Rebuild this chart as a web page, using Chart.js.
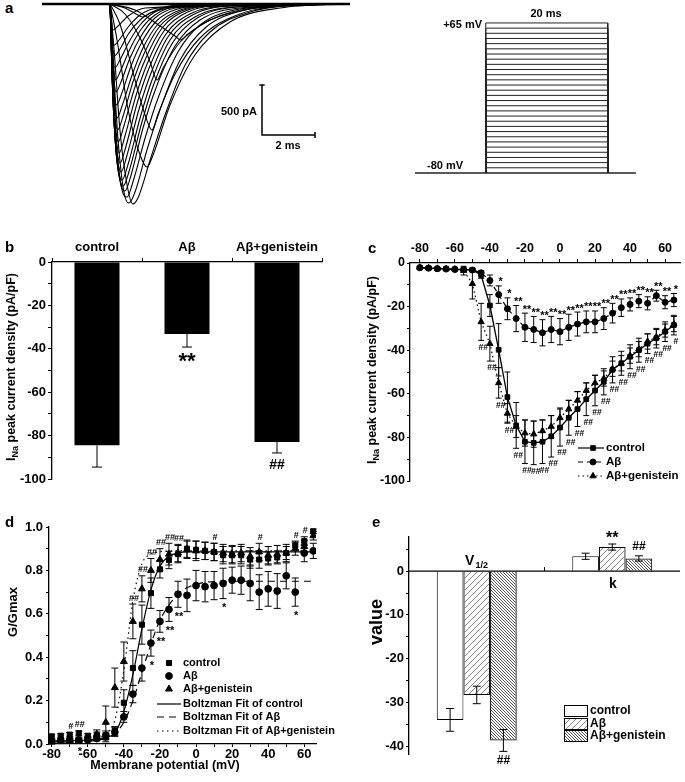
<!DOCTYPE html>
<html>
<head>
<meta charset="utf-8">
<title>INa figure</title>
<script src="https://cdn.jsdelivr.net/npm/chart.js@4.4.1/dist/chart.umd.min.js"></script>
<style>
  html, body { margin: 0; padding: 0; background: #fff; }
  body { position: relative; width: 685px; height: 782px; overflow: hidden; }
  canvas { position: absolute; }
  .tag { position: absolute; font: bold 15px "Liberation Sans", Arial, sans-serif; line-height: 16px; }
</style>
</head>
<body>
<canvas id="traces" width="308" height="210" style="left:42px;top:0px"></canvas>
<canvas id="protocol" width="221" height="180" style="left:415px;top:0px"></canvas>
<canvas id="panelB" width="340" height="270" style="left:0px;top:225px"></canvas>
<canvas id="panelC" width="345" height="270" style="left:340px;top:225px"></canvas>
<canvas id="panelD" width="340" height="277" style="left:0px;top:505px"></canvas>
<canvas id="panelE" width="345" height="277" style="left:340px;top:505px"></canvas>
<div class="tag" style="left:5px;top:0px">a</div>
<div class="tag" style="left:5px;top:239px">b</div>
<div class="tag" style="left:368px;top:240px">c</div>
<div class="tag" style="left:5px;top:514px">d</div>
<div class="tag" style="left:372px;top:514px">e</div>
<script>
// ---------- data ----------
const volts = [-80, -75, -70, -65, -60, -55, -50, -45, -40, -35, -30, -25, -20, -15, -10, -5, 0, 5, 10, 15, 20, 25, 30, 35, 40, 45, 50, 55, 60, 65];

// a: current sweeps, [time ms, current nA]
const sweeps = [
  [[2.57,0],[3.13,-0.04],[3.62,-0.11],[3.81,-0.13],[4.08,-0.09],[4.83,-0.04],[6.72,-0.01],[11.62,0]],
  [[2.57,0],[3.51,-0.06],[4.45,-0.22],[5.02,-0.32],[5.21,-0.36],[5.51,-0.30],[6.34,-0.16],[7.85,-0.05],[9.74,-0.01],[11.62,0]],
  [[2.57,0],[3.13,-0.10],[3.70,-0.34],[4.08,-0.58],[4.34,-0.76],[4.57,-0.64],[5.21,-0.38],[6.34,-0.16],[8.23,-0.03],[11.62,0]],
  [[2.57,0],[2.94,-0.20],[3.51,-0.76],[3.89,-1.11],[4.15,-1.26],[4.38,-1.10],[5.02,-0.70],[5.96,-0.34],[7.47,-0.10],[9.74,-0.01],[11.62,0]],
  [[2.57,0],[2.83,-0.36],[3.25,-1.06],[3.70,-1.51],[3.96,-1.63],[4.19,-1.51],[4.83,-1.01],[5.77,-0.51],[7.09,-0.18],[8.98,-0.04],[11.62,0]],
  [[2.57,0],[2.72,-0.46],[2.94,-1.26],[3.21,-1.81],[3.43,-2.00],[3.62,-1.94],[4.08,-1.56],[4.64,-1.11],[5.40,-0.61],[6.34,-0.28],[7.85,-0.08],[9.74,-0.01],[11.62,0]],
  [[2.57,0],[2.68,-0.56],[2.87,-1.36],[3.09,-1.88],[3.28,-1.99],[3.51,-1.88],[3.96,-1.46],[4.45,-1.06],[5.21,-0.56],[6.15,-0.24],[7.66,-0.06],[9.74,-0.01],[11.62,0]],
  [[2.57,0],[2.64,-0.56],[2.83,-1.46],[3.02,-1.86],[3.21,-1.93],[3.43,-1.78],[3.89,-1.34],[4.38,-0.94],[5.13,-0.48],[5.96,-0.21],[7.47,-0.05],[9.74,-0.01],[11.62,0]],
  [[2.57,0],[2.64,-0.66],[2.79,-1.46],[2.98,-1.81],[3.13,-1.87],[3.36,-1.71],[3.81,-1.24],[4.30,-0.84],[5.02,-0.42],[5.96,-0.16],[7.47,-0.04],[11.62,0]],
  [[2.57,0],[2.64,-0.69],[2.79,-1.46],[2.94,-1.76],[3.06,-1.82],[3.30,-1.66],[3.76,-1.19],[4.22,-0.80],[4.92,-0.39],[5.86,-0.14],[7.38,-0.03],[11.62,0]],
  [[2.57,0],[2.64,-0.71],[2.79,-1.46],[2.91,-1.70],[3.02,-1.76],[3.25,-1.60],[3.70,-1.14],[4.15,-0.76],[4.83,-0.36],[5.77,-0.13],[7.28,-0.03],[11.62,0]],
  [[2.57,0],[2.64,-0.69],[2.77,-1.40],[2.89,-1.62],[2.98,-1.68],[3.21,-1.51],[3.64,-1.07],[4.10,-0.70],[4.75,-0.33],[5.68,-0.11],[7.18,-0.02],[11.62,0]],
  [[2.57,0],[2.64,-0.66],[2.75,-1.31],[2.87,-1.54],[2.94,-1.59],[3.17,-1.42],[3.58,-1.00],[4.04,-0.64],[4.68,-0.30],[5.58,-0.10],[7.09,-0.02],[11.62,0]],
  [[2.57,0],[2.64,-0.63],[2.75,-1.25],[2.85,-1.44],[2.91,-1.49],[3.13,-1.32],[3.53,-0.93],[3.98,-0.59],[4.60,-0.27],[5.49,-0.08],[7.00,-0.015],[11.62,0]],
  [[2.57,0],[2.64,-0.61],[2.75,-1.18],[2.83,-1.34],[2.87,-1.38],[3.09,-1.22],[3.47,-0.86],[3.92,-0.54],[4.53,-0.24],[5.40,-0.07],[6.91,-0.01],[11.62,0]],
  [[2.57,0],[2.64,-0.56],[2.75,-1.10],[2.85,-1.26],[3.06,-1.12],[3.43,-0.78],[3.86,-0.49],[4.45,-0.22],[5.30,-0.065],[6.80,-0.01],[11.62,0]],
  [[2.57,0],[2.64,-0.51],[2.75,-1.01],[2.83,-1.14],[3.02,-1.02],[3.40,-0.71],[3.81,-0.44],[4.38,-0.20],[5.21,-0.06],[6.72,-0.01],[11.62,0]],
  [[2.57,0],[2.64,-0.48],[2.73,-0.90],[2.81,-1.01],[3.00,-0.90],[3.36,-0.62],[3.77,-0.38],[4.32,-0.17],[5.11,-0.05],[6.60,-0.01],[11.62,0]],
  [[2.57,0],[2.64,-0.46],[2.72,-0.78],[2.79,-0.88],[2.98,-0.78],[3.32,-0.54],[3.74,-0.32],[4.26,-0.14],[5.02,-0.04],[6.53,-0.01],[11.62,0]],
  [[2.57,0],[2.64,-0.42],[2.73,-0.70],[2.77,-0.76],[2.96,-0.67],[3.30,-0.46],[3.72,-0.26],[4.26,-0.11],[5.02,-0.03],[11.62,0]],
  [[2.57,0],[2.64,-0.38],[2.75,-0.64],[2.94,-0.56],[3.28,-0.38],[3.70,-0.21],[4.26,-0.08],[5.02,-0.02],[11.62,0]],
  [[2.57,0],[2.64,-0.33],[2.73,-0.52],[2.92,-0.46],[3.26,-0.30],[3.70,-0.16],[4.32,-0.06],[5.00,-0.015],[11.62,0]],
  [[2.57,0],[2.64,-0.28],[2.72,-0.41],[2.91,-0.36],[3.25,-0.23],[3.70,-0.11],[4.38,-0.04],[11.62,0]],
  [[2.57,0],[2.68,-0.26],[2.87,-0.22],[3.25,-0.12],[3.89,-0.04],[11.62,0]]
];
const sweepSpan = [0, 11.62];
const scaleBarT = [8.3, 10.3];     // 2 ms
const scaleBarI = [-0.81, -1.31];  // 500 pA

// a: voltage protocol
const holdLevel = -80;
const stepLevels = [-75, -70, -65, -60, -55, -50, -45, -40, -35, -30, -25, -20, -15, -10, -5, 0, 5, 10, 15, 20, 25, 30, 35, 40, 45, 50, 55, 60, 65];
const protocolT = [0, 11.6, 31.6, 36.2];

// b
const groups = ['control', 'Aβ', 'Aβ+genistein'];
const peakMean = [-84.5, -33.2, -83.0];
const peakSem = [10.0, 6.0, 5.0];
const peakSig = ['', '**', '##'];

// c: I-V
const ivControl = [-2.1, -2.3, -2.6, -2.6, -2.8, -3.0, -3.2, -5.5, -19.5, -39.8, -61.5, -74.5, -82.0, -82.5, -82.0, -79.5, -75.5, -71.0, -67.0, -62.5, -58.5, -54.5, -49.0, -46.0, -43.0, -40.0, -37.0, -34.5, -31.5, -28.5];
const ivControlErr = [0.5, 0.5, 0.5, 0.5, 0.5, 0.6, 0.8, 1.5, 5, 12, 11.5, 10.5, 10, 10, 10, 9.5, 8.5, 8, 8, 7.5, 7, 6, 6, 5.5, 5.5, 5.5, 4.5, 4.5, 4.5, 4.5];
const ivAb = [-2.2, -2.4, -2.6, -2.8, -3.0, -3.0, -3.2, -4.5, -8.0, -14.5, -21.0, -25.5, -29.5, -30.5, -32.0, -30.5, -31.5, -29.5, -28.0, -27.0, -27.0, -25.5, -23.0, -20.5, -19.0, -17.5, -18.5, -15.0, -18.0, -17.0];
const ivAbErr = [0.5, 0.5, 0.5, 0.5, 0.5, 0.5, 0.6, 1, 2.5, 4, 5, 6, 6.5, 6, 6, 6, 6, 6, 5.5, 5, 5, 5, 4.5, 4, 3, 3, 3, 2.5, 3, 3];
const ivGen = [-2.0, -2.2, -2.5, -2.6, -2.8, -3.5, -9.5, -27.0, -37.0, -55.0, -69.0, -75.0, -78.0, -78.5, -77.0, -75.0, -71.0, -67.0, -63.0, -58.5, -55.0, -53.0, -48.5, -46.0, -42.5, -39.5, -36.0, -34.0, -31.0, -28.0];
const ivGenErr = [0.5, 0.5, 0.5, 0.5, 0.5, 2, 7, 8.5, 8, 7, 4.5, 5, 6, 6, 5, 5, 4.5, 4, 4, 3.5, 3.5, 3.5, 3.5, 3.5, 3.5, 3.5, 3.5, 3.5, 3, 3.5];
const ivAbSig = ['', '', '', '', '', '', '', '', '', '*', '*', '**', '**', '**', '**', '**', '**', '**', '**', '**', '**', '**', '**', '**', '**', '**', '**', '**', '**', '*'];
const ivGenSig = ['', '', '', '', '', '', '', '##', '##', '##', '##', '##', '##', '##', '##', '##', '##', '##', '##', '##', '##', '##', '##', '##', '##', '##', '##', '##', '##', '#'];

// d: activation
const gControl = [0.035, 0.038, 0.043, 0.049, 0.038, 0.04, 0.03, 0.06, 0.19, 0.35, 0.55, 0.695, 0.805, 0.848, 0.875, 0.9, 0.895, 0.89, 0.885, 0.87, 0.87, 0.87, 0.85, 0.85, 0.855, 0.86, 0.88, 0.915, 0.935, 0.98];
const gControlErr = [0.01, 0.01, 0.01, 0.012, 0.01, 0.015, 0.02, 0.02, 0.06, 0.08, 0.09, 0.07, 0.04, 0.04, 0.04, 0.04, 0.04, 0.04, 0.04, 0.04, 0.04, 0.04, 0.04, 0.04, 0.03, 0.03, 0.03, 0.02, 0.02, 0.01];
const gAb = [0.011, 0.015, 0.017, 0.018, 0.02, 0.025, 0.04, 0.055, 0.125, 0.23, 0.35, 0.465, 0.565, 0.62, 0.69, 0.685, 0.73, 0.725, 0.73, 0.74, 0.755, 0.755, 0.74, 0.7, 0.715, 0.705, 0.775, 0.7, 0.88, 0.89];
const gAbErr = [0.01, 0.01, 0.01, 0.01, 0.01, 0.01, 0.02, 0.02, 0.025, 0.04, 0.06, 0.06, 0.05, 0.055, 0.06, 0.075, 0.07, 0.07, 0.065, 0.07, 0.06, 0.065, 0.08, 0.08, 0.08, 0.08, 0.06, 0.065, 0.04, 0.035];
const gGen = [0.01, 0.012, 0.015, 0.016, 0.025, 0.045, 0.1, 0.26, 0.38, 0.565, 0.715, 0.8, 0.85, 0.875, 0.88, 0.895, 0.89, 0.89, 0.885, 0.88, 0.875, 0.88, 0.865, 0.885, 0.87, 0.875, 0.88, 0.9, 0.91, 0.96];
const gGenErr = [0.01, 0.01, 0.01, 0.01, 0.01, 0.02, 0.075, 0.09, 0.09, 0.08, 0.06, 0.055, 0.05, 0.05, 0.04, 0.04, 0.045, 0.04, 0.04, 0.04, 0.04, 0.04, 0.04, 0.04, 0.04, 0.04, 0.04, 0.03, 0.03, 0.02];
const fitControl = [0.015, 0.015, 0.015, 0.016, 0.018, 0.02, 0.03, 0.05, 0.15, 0.32, 0.53, 0.71, 0.82, 0.865, 0.88, 0.885, 0.885, 0.885, 0.885, 0.885, 0.885, 0.885, 0.885, 0.885, 0.885, 0.885, 0.885, 0.885, 0.885, 0.885];
const fitAb = [0.01, 0.01, 0.01, 0.011, 0.013, 0.017, 0.027, 0.05, 0.1, 0.2, 0.33, 0.46, 0.57, 0.64, 0.69, 0.72, 0.735, 0.745, 0.748, 0.75, 0.75, 0.75, 0.75, 0.75, 0.75, 0.75, 0.75, 0.75, 0.75, 0.75];
const fitGen = [0.012, 0.012, 0.013, 0.014, 0.017, 0.025, 0.045, 0.11, 0.34, 0.66, 0.83, 0.875, 0.886, 0.889, 0.89, 0.89, 0.89, 0.89, 0.89, 0.89, 0.89, 0.89, 0.89, 0.89, 0.89, 0.89, 0.89, 0.89, 0.89, 0.89];
const gAbSig = ['', '', '', '*', '', '', '', '', '', '', '', '*', '**', '**', '**', '', '', '', '', '*', '', '', '', '', '', '', '', '*', '', ''];
const gGenSig = ['', '', '#', '##', '', '', '', '', '', '##', '##', '##', '##', '##', '##', '', '', '', '#', '', '', '', '', '#', '', '', '', '#', '#', ''];

// e: Boltzmann parameters
const params = ['V1/2', 'k'];
const parControl = [-34.0, 3.4];
const parControlErr = [2.6, 0.7];
const parAb = [-28.3, 5.5];
const parAbErr = [2.0, 0.7];
const parGen = [-38.7, 2.9];
const parGenErr = [2.5, 0.6];
const parAbSig = ['', '**'];
const parGenSig = ['##', '##'];

// ---------- helpers ----------
const FONT = '"Liberation Sans", Arial, sans-serif';
Chart.defaults.font.family = FONT;
Chart.defaults.font.weight = 'bold';
Chart.defaults.font.size = 13;
Chart.defaults.color = '#000';
Chart.defaults.animation = false;
Chart.defaults.responsive = false;
Chart.defaults.plugins.legend.display = false;
Chart.defaults.plugins.tooltip.enabled = false;

const bold = size => 'bold ' + size + 'px ' + FONT;
const pts = arr => volts.map((v, i) => ({ x: v, y: arr[i] }));

// text at page coordinates
function txt(chart, s, px, py, size, align) {
  const c = chart.ctx, cv = chart.canvas;
  c.save();
  c.font = bold(size);
  c.fillStyle = '#000';
  c.textAlign = align || 'center';
  c.textBaseline = 'middle';
  const dy = s.indexOf('*') >= 0 ? size * 0.22 : 0;
  c.fillText(s, px - cv.offsetLeft, py - cv.offsetTop + dy);
  c.restore();
}

// rotated title built from pieces [text, size, shift]
function rotTitle(chart, parts, px, py) {
  const c = chart.ctx, cv = chart.canvas;
  c.save();
  c.translate(px - cv.offsetLeft, py - cv.offsetTop);
  c.rotate(-Math.PI / 2);
  c.fillStyle = '#000';
  c.textBaseline = 'middle';
  c.textAlign = 'left';
  let w = 0;
  parts.forEach(p => { c.font = bold(p[1]); w += c.measureText(p[0]).width; });
  let x = -w / 2;
  parts.forEach(p => { c.font = bold(p[1]); c.fillText(p[0], x, p[2] || 0); x += c.measureText(p[0]).width; });
  c.restore();
}

function seg(chart, x1, y1, x2, y2, dash, lw) {
  const c = chart.ctx, cv = chart.canvas;
  c.save();
  c.strokeStyle = '#000';
  c.lineWidth = lw || 1.2;
  c.setLineDash(dash || []);
  c.beginPath();
  c.moveTo(x1 - cv.offsetLeft, y1 - cv.offsetTop);
  c.lineTo(x2 - cv.offsetLeft, y2 - cv.offsetTop);
  c.stroke();
  c.restore();
}

function marker(chart, style, px, py, r) {
  const c = chart.ctx, cv = chart.canvas;
  c.save();
  c.fillStyle = '#000';
  c.strokeStyle = '#000';
  Chart.helpers.drawPoint(c, { pointStyle: style, radius: r, rotation: 0, borderWidth: 1 }, px - cv.offsetLeft, py - cv.offsetTop);
  c.restore();
}

function errorBars(chart, dsi, errs, cap, away) {
  const meta = chart.getDatasetMeta(dsi), ys = chart.scales.y, c = chart.ctx;
  const ds = chart.data.datasets[dsi];
  c.save();
  c.strokeStyle = '#000';
  c.lineWidth = 1;
  meta.data.forEach((el, i) => {
    const e = errs[i];
    if (!e) return;
    const raw = ds.data[i];
    const v = typeof raw === 'number' ? raw : raw.y;
    const a = away ? v : v - e;
    const b = away ? v + Math.sign(v) * e : v + e;
    const ya = ys.getPixelForValue(a), yb = ys.getPixelForValue(b);
    c.beginPath();
    c.moveTo(el.x, ya); c.lineTo(el.x, yb);
    c.moveTo(el.x - cap, yb); c.lineTo(el.x + cap, yb);
    if (!away) { c.moveTo(el.x - cap, ya); c.lineTo(el.x + cap, ya); }
    c.stroke();
  });
  c.restore();
}

function axisStyle(extra) {
  return Object.assign({
    grid: { drawOnChartArea: false, color: '#000', tickLength: 4, lineWidth: 1 },
    border: { color: '#000', width: 1.3 }
  }, extra);
}

const everyN = n => v => (Math.abs(v / n - Math.round(v / n)) < 1e-6 ? v : '');

function hatch(size, dir, color, lw) {
  const cv = document.createElement('canvas');
  cv.width = cv.height = size;
  const g = cv.getContext('2d');
  g.strokeStyle = color;
  g.lineWidth = lw;
  g.beginPath();
  if (dir > 0) {
    g.moveTo(0, size); g.lineTo(size, 0);
    g.moveTo(-1, 1); g.lineTo(1, -1);
    g.moveTo(size - 1, size + 1); g.lineTo(size + 1, size - 1);
  } else {
    g.moveTo(0, 0); g.lineTo(size, size);
    g.moveTo(size - 1, -1); g.lineTo(size + 1, 1);
    g.moveTo(-1, size - 1); g.lineTo(1, size + 1);
  }
  g.stroke();
  return g.createPattern(cv, 'repeat');
}

// ---------- a: sweeps ----------
const sweepSets = sweeps.map(s => ({
  data: s.map(p => ({ x: p[0], y: p[1] })),
  borderColor: '#000', borderWidth: 1.1, pointRadius: 0, cubicInterpolationMode: 'monotone'
}));
sweepSets.push({ data: sweepSpan.map(t => ({ x: t, y: 0 })), borderColor: '#000', borderWidth: 2.6, pointRadius: 0 });
sweepSets.push({
  data: [{ x: scaleBarT[0], y: scaleBarI[0] }, { x: scaleBarT[0], y: scaleBarI[1] }, { x: scaleBarT[1], y: scaleBarI[1] }],
  borderColor: '#000', borderWidth: 1.5, pointRadius: 0
});
sweepSets.push({
  data: [{ x: scaleBarT[0] - 0.1, y: scaleBarI[0] }, { x: scaleBarT[0] + 0.1, y: scaleBarI[0] }],
  borderColor: '#000', borderWidth: 1.5, pointRadius: 0
});
sweepSets.push({
  data: [{ x: scaleBarT[1], y: scaleBarI[1] - 0.03 }, { x: scaleBarT[1], y: scaleBarI[1] + 0.03 }],
  borderColor: '#000', borderWidth: 1.5, pointRadius: 0
});

new Chart(document.getElementById('traces'), {
  type: 'line',
  data: { datasets: sweepSets },
  options: {
    layout: { padding: 0 },
    scales: {
      x: { type: 'linear', display: false, min: 0, max: 11.62 },
      y: { display: false, min: -2.06, max: 0.04 }
    }
  },
  plugins: [{
    id: 'aText',
    afterDraw(chart) {
      txt(chart, '500 pA', 257, 112, 11, 'right');
      txt(chart, '2 ms', 288, 146, 11);
    }
  }]
});

// ---------- a: protocol ----------
const protoSets = stepLevels.map(v => ({
  data: [
    { x: protocolT[1], y: holdLevel }, { x: protocolT[1], y: v },
    { x: protocolT[2], y: v }, { x: protocolT[2], y: holdLevel }
  ],
  borderColor: '#222', borderWidth: 1, pointRadius: 0
}));
protoSets.push({
  data: [{ x: protocolT[0], y: holdLevel }, { x: protocolT[3], y: holdLevel }],
  borderColor: '#222', borderWidth: 1.4, pointRadius: 0
});

new Chart(document.getElementById('protocol'), {
  type: 'line',
  data: { datasets: protoSets },
  options: {
    layout: { padding: 0 },
    scales: {
      x: { type: 'linear', display: false, min: 0, max: 36.23 },
      y: { display: false, min: -86.8, max: 87.2 }
    }
  },
  plugins: [{
    id: 'protoText',
    afterDraw(chart) {
      txt(chart, '+65 mV', 482, 25, 11, 'right');
      txt(chart, '-80 mV', 427, 166, 11, 'left');
      txt(chart, '20 ms', 546, 14, 11);
    }
  }]
});

// ---------- b ----------
new Chart(document.getElementById('panelB'), {
  type: 'bar',
  data: {
    labels: groups,
    datasets: [{ data: peakMean, backgroundColor: '#000', barPercentage: 0.5, categoryPercentage: 1 }]
  },
  options: {
    layout: { padding: { left: 0, top: 0, right: 18, bottom: 16 } },
    scales: {
      x: axisStyle({
        position: 'top',
        grid: { drawOnChartArea: false, color: '#000', tickLength: 4, offset: true },
        ticks: { padding: 3, font: { size: 13 }, maxRotation: 0 },
        afterFit: s => { s.height = 37; }
      }),
      y: axisStyle({
        min: -100, max: 0,
        ticks: { stepSize: 10, padding: 2, font: { size: 13 }, callback: everyN(20) },
        afterFit: s => { s.width = 52; }
      })
    }
  },
  plugins: [{
    id: 'bExtra',
    afterDatasetsDraw(chart) {
      errorBars(chart, 0, peakSem, 5, true);
      const meta = chart.getDatasetMeta(0), ys = chart.scales.y, oy = chart.canvas.offsetTop;
      meta.data.forEach((el, i) => {
        if (!peakSig[i]) return;
        const end = ys.getPixelForValue(peakMean[i] - peakSem[i]) + oy;
        const star = peakSig[i].indexOf('*') >= 0;
        txt(chart, peakSig[i], el.x, end + (star ? 10 : 12), star ? 22 : 14);
      });
      rotTitle(chart, [['I', 12.5], ['Na', 9, 3.5], [' peak current density (pA/pF)', 12.5]], 12, 367);
    }
  }]
});

// ---------- c ----------
new Chart(document.getElementById('panelC'), {
  type: 'line',
  data: {
    datasets: [
      { data: pts(ivControl), borderColor: '#000', backgroundColor: '#000', borderWidth: 1.3, pointStyle: 'rect', pointRadius: 3.3, pointBorderWidth: 1 },
      { data: pts(ivAb), borderColor: '#000', backgroundColor: '#000', borderWidth: 1.2, borderDash: [5, 4], pointStyle: 'circle', pointRadius: 3, pointBorderWidth: 1 },
      { data: pts(ivGen), borderColor: '#000', backgroundColor: '#000', borderWidth: 1.2, borderDash: [1.5, 3], pointStyle: 'triangle', pointRadius: 3.6, pointBorderWidth: 1 }
    ]
  },
  options: {
    layout: { padding: { left: 0, top: 0, right: 2, bottom: 14 } },
    scales: {
      x: axisStyle({
        type: 'linear', position: 'top', min: -85.6, max: 68.5,
        ticks: { stepSize: 10, includeBounds: false, padding: 3, font: { size: 12.5 }, maxRotation: 0, minRotation: 0, autoSkip: false, callback: everyN(20) },
        afterFit: s => { s.height = 38; }
      }),
      y: axisStyle({
        min: -100, max: 0,
        grid: { drawOnChartArea: false, color: '#000', tickLength: 3 },
        ticks: { stepSize: 10, padding: 2, font: { size: 12.5 }, callback: everyN(20) },
        afterFit: s => { s.width = 70; }
      })
    }
  },
  plugins: [{
    id: 'cExtra',
    afterDatasetsDraw(chart) {
      errorBars(chart, 0, ivControlErr, 3, false);
      errorBars(chart, 1, ivAbErr, 3, false);
      errorBars(chart, 2, ivGenErr, 3, false);
      const xs = chart.scales.x, ys = chart.scales.y;
      const ox = chart.canvas.offsetLeft, oy = chart.canvas.offsetTop;
      volts.forEach((v, i) => {
        const px = xs.getPixelForValue(v) + ox;
        if (ivAbSig[i]) {
          const top = ys.getPixelForValue(ivAb[i] + ivAbErr[i]) + oy;
          txt(chart, ivAbSig[i], px + 2, top - 6, 11);
        }
        if (ivGenSig[i]) {
          const low = Math.min(ivControl[i] - ivControlErr[i], ivGen[i] - ivGenErr[i]);
          txt(chart, ivGenSig[i], px + 2, ys.getPixelForValue(low) + oy + 7, 8.5);
        }
      });
      const rows = [[448, [], 'rect', 3.3, 'control'], [462, [5, 4], 'circle', 3, 'Aβ'], [476, [1.5, 3], 'triangle', 3.6, 'Aβ+genistein']];
      rows.forEach(r => {
        seg(chart, 578, r[0], 604, r[0], r[1], 1.2);
        marker(chart, r[2], 593, r[0], r[3]);
        txt(chart, r[4], 606, r[0], 11.5, 'left');
      });
      rotTitle(chart, [['I', 12.5], ['Na', 9, 3.5], [' peak current density (pA/pF)', 12.5]], 373, 370);
    }
  }]
});

// ---------- d ----------
new Chart(document.getElementById('panelD'), {
  type: 'line',
  data: {
    datasets: [
      { data: pts(fitControl), borderColor: '#000', borderWidth: 1.2, pointRadius: 0, cubicInterpolationMode: 'monotone' },
      { data: pts(fitAb), borderColor: '#000', borderWidth: 1.2, borderDash: [7, 5], pointRadius: 0, cubicInterpolationMode: 'monotone' },
      { data: pts(fitGen), borderColor: '#000', borderWidth: 1.2, borderDash: [1.5, 3.5], pointRadius: 0, cubicInterpolationMode: 'monotone' },
      { data: pts(gControl), showLine: false, backgroundColor: '#000', borderColor: '#000', pointStyle: 'rect', pointRadius: 3.6, pointBorderWidth: 1 },
      { data: pts(gAb), showLine: false, backgroundColor: '#000', borderColor: '#000', pointStyle: 'circle', pointRadius: 3.4, pointBorderWidth: 1 },
      { data: pts(gGen), showLine: false, backgroundColor: '#000', borderColor: '#000', pointStyle: 'triangle', pointRadius: 4, pointBorderWidth: 1 }
    ]
  },
  options: {
    layout: { padding: { left: 0, top: 22, right: 24, bottom: 0 } },
    scales: {
      x: axisStyle({
        type: 'linear', min: -81.5, max: 66.5,
        grid: { drawOnChartArea: false, color: '#000', tickLength: 3 },
        ticks: { stepSize: 10, includeBounds: false, padding: 0, font: { size: 13 }, maxRotation: 0, minRotation: 0, autoSkip: false, callback: everyN(20) },
        afterFit: s => { s.height = 38; }
      }),
      y: axisStyle({
        min: 0, max: 1,
        grid: { drawOnChartArea: false, color: '#000', tickLength: 3 },
        ticks: { stepSize: 0.1, padding: 3, font: { size: 13 }, callback: v => (Math.abs(v * 5 - Math.round(v * 5)) < 1e-6 ? v.toFixed(1) : '') },
        afterFit: s => { s.width = 49; }
      })
    }
  },
  plugins: [{
    id: 'dExtra',
    afterDatasetsDraw(chart) {
      errorBars(chart, 3, gControlErr, 3.5, false);
      errorBars(chart, 4, gAbErr, 3.5, false);
      errorBars(chart, 5, gGenErr, 3.5, false);
      const xs = chart.scales.x, ys = chart.scales.y;
      const ox = chart.canvas.offsetLeft, oy = chart.canvas.offsetTop;
      volts.forEach((v, i) => {
        const px = xs.getPixelForValue(v) + ox;
        if (gGenSig[i]) {
          const hi = Math.max(gControl[i] + gControlErr[i], gAb[i] + gAbErr[i], gGen[i] + gGenErr[i]);
          txt(chart, gGenSig[i], px + 1, ys.getPixelForValue(hi) + oy - 6, 9);
        }
        if (gAbSig[i]) {
          const lo = gAb[i] - gAbErr[i];
          txt(chart, gAbSig[i], px + 1, ys.getPixelForValue(lo) + oy + 7, 11);
        }
      });
      marker(chart, 'rect', 169, 663, 3.6);
      marker(chart, 'circle', 169, 676, 3.4);
      marker(chart, 'triangle', 169, 689, 4);
      seg(chart, 157, 704, 181, 704, [], 1.2);
      seg(chart, 157, 717, 181, 717, [7, 5], 1.2);
      seg(chart, 157, 731, 181, 731, [1.5, 3.5], 1.2);
      const names = ['control', 'Aβ', 'Aβ+genistein', 'Boltzman Fit of control', 'Boltzman Fit of Aβ', 'Boltzman Fit of Aβ+genistein'];
      const rowsY = [663, 676, 689, 704, 717, 731];
      names.forEach((n, i) => txt(chart, n, 183, rowsY[i], 11, 'left'));
      txt(chart, 'Membrane potential (mV)', 165, 766, 12.5);
      rotTitle(chart, [['G/Gmax', 13]], 13, 612);
    }
  }]
});

// ---------- e ----------
const hatchAb = hatch(6, 1, '#777', 0.9);
const hatchGen = hatch(3, -1, '#444', 0.9);

new Chart(document.getElementById('panelE'), {
  type: 'bar',
  data: {
    labels: params,
    datasets: [
      { data: parControl, backgroundColor: '#fff', borderColor: '#000', borderWidth: 1, barPercentage: 1, categoryPercentage: 0.59 },
      { data: parAb, backgroundColor: hatchAb, borderColor: '#000', borderWidth: 1, barPercentage: 1, categoryPercentage: 0.59 },
      { data: parGen, backgroundColor: hatchGen, borderColor: '#000', borderWidth: 1, barPercentage: 1, categoryPercentage: 0.59 }
    ]
  },
  options: {
    layout: { padding: { left: 0, top: 32, right: 5, bottom: 28 } },
    scales: {
      x: { display: false },
      y: axisStyle({
        min: -41.8, max: 7.8,
        grid: { drawOnChartArea: false, color: '#000', tickLength: 3 },
        ticks: { stepSize: 5, includeBounds: false, padding: 2, font: { size: 13 }, callback: everyN(10) },
        afterFit: s => { s.width = 69; }
      })
    }
  },
  plugins: [{
    id: 'eExtra',
    afterDatasetsDraw(chart) {
      const ca = chart.chartArea, ys = chart.scales.y, xs = chart.scales.x;
      const ox = chart.canvas.offsetLeft, oy = chart.canvas.offsetTop;
      const y0 = ys.getPixelForValue(0) + oy;
      seg(chart, ca.left + ox, y0, ca.right + ox, y0, [], 1.2);
      const mid = (xs.getPixelForValue(0) + xs.getPixelForValue(1)) / 2 + ox;
      seg(chart, mid, y0, mid, y0 - 4, [], 1);
      const sets = [[parControl, parControlErr, null], [parAb, parAbErr, parAbSig], [parGen, parGenErr, parGenSig]];
      sets.forEach((s, d) => {
        errorBars(chart, d, s[1], 4, false);
        if (!s[2]) return;
        chart.getDatasetMeta(d).data.forEach((el, i) => {
          const lab = s[2][i];
          if (!lab) return;
          const v = s[0][i], end = v + Math.sign(v) * s[1][i];
          const py = ys.getPixelForValue(end) + oy - Math.sign(v) * 9;
          txt(chart, lab, el.x + ox, py, lab.indexOf('*') >= 0 ? 16 : 12);
        });
      });
      txt(chart, 'V', 465, 561, 14, 'left');
      txt(chart, '1/2', 475.5, 566, 9, 'left');
      txt(chart, 'k', 613, 584, 14);
      const fills = ['#fff', hatchAb, hatchGen];
      const names = ['control', 'Aβ', 'Aβ+genistein'];
      const c = chart.ctx;
      [705, 718, 730].forEach((top, i) => {
        c.save();
        c.fillStyle = fills[i];
        c.fillRect(564 - ox, top - oy, 23, 11);
        c.strokeStyle = '#000';
        c.lineWidth = 1;
        c.strokeRect(564.5 - ox, top + 0.5 - oy, 23, 11);
        c.restore();
        txt(chart, names[i], 590, top + 6, 12, 'left');
      });
      rotTitle(chart, [['value', 18]], 377, 622);
    }
  }]
});
</script>
</body>
</html>
